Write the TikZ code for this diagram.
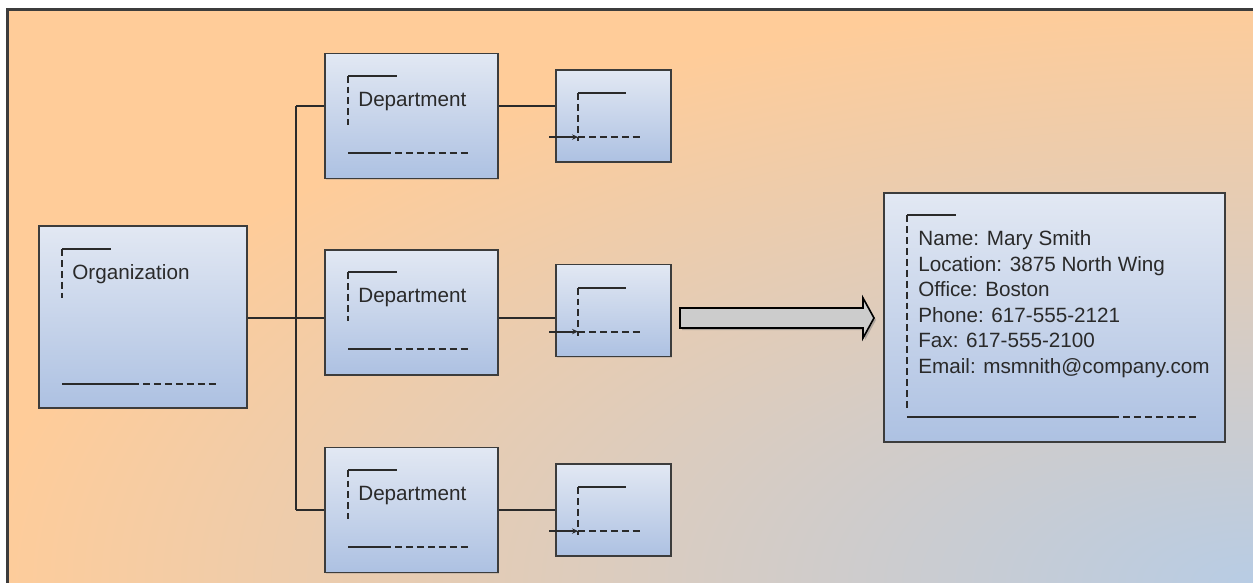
\documentclass[tikz,border=0pt]{standalone}
\usepackage{fontspec}
\setmainfont{Liberation Sans}
\usetikzlibrary{calc,arrows.meta,shadows}
\definecolor{bgor}{HTML}{FFCC99}
\definecolor{bgbl}{HTML}{B8CCE4}
\definecolor{framec}{HTML}{3C3C3C}
\definecolor{boxtop}{HTML}{E2E8F3}
\definecolor{boxbot}{HTML}{ADC1E2}
\definecolor{ink}{HTML}{2A2A2A}
\definecolor{arrowfill}{HTML}{CCCCCC}
\pgfdeclareradialshading{bgshade}{\pgfpoint{0bp}{0bp}}{color(0bp)=(bgbl); color(25bp)=(bgor); color(50bp)=(bgor)}
\newcommand\deptmarks[1]{%
  \draw[glyph] ($(#1.north west)+(24,23)$) -- ++(49,0);
  \draw[glyphd] ($(#1.north west)+(24,23)$) -- ++(0,49);
  \draw[glyph] ($(#1.north west)+(24,100)$) -- ++(36,0);
  \draw[glyphd] ($(#1.north west)+(60,100)$) -- ++(85,0);
}
\newcommand\smallmarks[1]{%
  \draw[glyph] ($(#1.north west)+(23,24)$) -- ++(48,0);
  \draw[glyphd] ($(#1.north west)+(23,24)$) -- ++(0,48);
  \draw[glyph,-{Stealth[length=4.5pt,width=4pt]}] ($(#1.north west)+(-6,68)$) -- ++(29,0);
  \draw[glyphd] ($(#1.north west)+(23,68)$) -- ++(64,0);
}
\begin{document}
\begin{tikzpicture}[x=0.75pt,y=-0.75pt,
  box/.style={draw=framec, line width=1.4pt, top color=boxtop, bottom color=boxbot, inner sep=0pt,
    drop shadow={shadow xshift=0.8pt, shadow yshift=-0.8pt, opacity=0.25}},
  deptbox/.style={box, minimum width=129.75pt, minimum height=93.75pt},
  smallbox/.style={box, minimum width=86.25pt, minimum height=69pt},
  glyph/.style={draw=ink, line width=1.5pt},
  glyphd/.style={glyph, dash pattern=on 5.2pt off 3pt},
  link/.style={draw=ink, line width=1.2pt},
  lbl/.style={anchor=base west, inner sep=0pt, text=ink, font=\fontsize{15.5pt}{19pt}\selectfont},
]
\useasboundingbox (0,0) rectangle (1253,582);
% background
\fill[bgor] (8,10) rectangle (1265,595);
\begin{scope}
  \clip (8,10) rectangle (1265,595);
  \shade[shading=bgshade] (1253,582) ellipse [x radius=960pt, y radius=440pt];
\end{scope}
\draw[framec, line width=1.6pt] (7.5,595) -- (7.5,9.5) -- (1265,9.5);

% boxes
\node[box, minimum width=156pt, minimum height=136.5pt] (org) at (143,317) {};
\node[deptbox] (d1) at (411.5,116) {};
\node[deptbox] (d2) at (411.5,312.5) {};
\node[deptbox] (d3) at (411.5,510) {};
\node[smallbox] (s1) at (613.5,116) {};
\node[smallbox] (s2) at (613.5,310.5) {};
\node[smallbox] (s3) at (613.5,510) {};
\node[box, minimum width=255.75pt, minimum height=186.75pt] (info) at (1054.5,317.5) {};

% connectors
\coordinate (j1) at (296,106);
\coordinate (j2) at (296,318);
\coordinate (j3) at (296,510);
\draw[link] (j1) -- (j3);
\draw[link] (org.east |- j2) -- (d2.west |- j2);
\draw[link] (j1) -- (d1.west |- j1);
\draw[link] (j3) -- (d3.west |- j3);
\draw[link] (d1.east |- j1) -- (s1.west |- j1);
\draw[link] (d2.east |- j2) -- (s2.west |- j2);
\draw[link] (d3.east |- j3) -- (s3.west |- j3);

% block arrow
\draw[draw=black, line width=1.2pt, fill=arrowfill,
  drop shadow={shadow xshift=1.5pt, shadow yshift=-1.5pt, opacity=0.5}]
  (680,308) -- (863,308) -- (863,298) -- (874,318) -- (863,338) -- (863,328) -- (680,328) -- cycle;

% marks
\draw[glyph] ($(org.north west)+(24,24)$) -- ++(49,0);
\draw[glyphd] ($(org.north west)+(24,24)$) -- ++(0,49);
\draw[glyph] ($(org.north west)+(24,159)$) -- ++(70,0);
\draw[glyphd] ($(org.north west)+(94,159)$) -- ++(85,0);
\deptmarks{d1}
\deptmarks{d2}
\deptmarks{d3}
\smallmarks{s1}
\smallmarks{s2}
\smallmarks{s3}
\draw[glyph] ($(info.north west)+(24,23)$) -- ++(49,0);
\draw[glyphd] ($(info.north west)+(24,23)$) -- ++(0,194);
\draw[glyph] ($(info.north west)+(24,225)$) -- ++(205,0);
\draw[glyphd] ($(info.north west)+(229,225)$) -- ++(85,0);

% labels
\node[lbl] (orgt) at ($(org.north west)+(34,54.5)$) {Organization};
\node[lbl] (d1t) at ($(d1.north west)+(34,53.5)$) {Department};
\node[lbl] (d2t) at ($(d2.north west)+(34,53.5)$) {Department};
\node[lbl] (d3t) at ($(d3.north west)+(34,53.5)$) {Department};
\node[lbl] (i1) at ($(info.north west)+(35,53.5)$) {Name: Mary Smith};
\node[lbl] (i2) at ($(info.north west)+(35,79)$) {Location: 3875 North Wing};
\node[lbl] (i3) at ($(info.north west)+(35,104.5)$) {Office: Boston};
\node[lbl] (i4) at ($(info.north west)+(35,130)$) {Phone: 617-555-2121};
\node[lbl] (i5) at ($(info.north west)+(35,155.5)$) {Fax: 617-555-2100};
\node[lbl] (i6) at ($(info.north west)+(35,181)$) {Email: msmnith@company.com};
\end{tikzpicture}
\end{document}
